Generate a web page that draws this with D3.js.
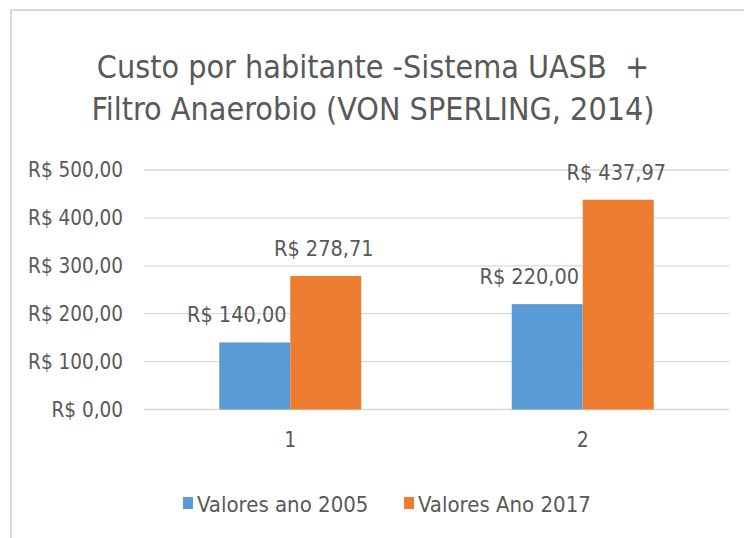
<!DOCTYPE html>
<html>
<head>
<meta charset="utf-8">
<script src="https://cdn.jsdelivr.net/npm/d3@7"></script>
<style>
  html, body { margin: 0; padding: 0; background: #fff; }
  svg { display: block; }
  text { font-family: "DejaVu Sans Condensed", "DejaVu Sans", sans-serif; fill: #595959; }
</style>
</head>
<body>
<svg id="chart" width="744" height="538"></svg>
<script>
// Cost per inhabitant, UASB + anaerobic filter system
const categories = ["1", "2"];
const seriesNames = ["Valores ano 2005", "Valores Ano 2017"];
const values2005 = [140.00, 220.00];
const values2017 = [278.71, 437.97];
const yTicks = [0, 100, 200, 300, 400, 500];
const titleLines = ["Custo por habitante -Sistema UASB  +", "Filtro Anaerobio (VON SPERLING, 2014)"];
const colors = ["#5B9BD5", "#ED7D31"];

const series = [values2005, values2017];
const W = 744, H = 538;
const FONT = '"DejaVu Sans Condensed", "DejaVu Sans", sans-serif';
const svg = d3.select("#chart");

// frame of the chart area
svg.append("path")
  .attr("d", `M11,${H} L11,10 L${W},10`)
  .attr("fill", "none")
  .attr("stroke", "#d9d9d9")
  .attr("stroke-width", 2);

// title
const title = svg.append("text")
  .attr("text-anchor", "middle")
  .attr("font-size", 32)
  .style("white-space", "pre");
titleLines.forEach((t, i) => {
  title.append("tspan").attr("x", 373).attr("y", 78 + i * 42).text(t);
});

const plot = { left: 144, right: 729, top: 170, bottom: 409.5 };

const y = d3.scaleLinear().domain([0, 500]).range([plot.bottom, plot.top]);
const x0 = d3.scaleBand().domain(categories).range([plot.left, plot.right]).padding(0);
const x1 = d3.scaleBand().domain(d3.range(series.length))
  .range([0, x0.bandwidth()]).paddingInner(0).paddingOuter(1.06);

const fmt = v => "R$ " + d3.format(",.2f")(v).replace(/,/g, "X").replace(/\./g, ",").replace(/X/g, ".");

// gridlines
svg.append("g")
  .selectAll("line")
  .data(yTicks)
  .join("line")
  .attr("x1", plot.left).attr("x2", plot.right)
  .attr("y1", d => y(d)).attr("y2", d => y(d))
  .attr("stroke", "#d9d9d9")
  .attr("stroke-width", 1.3);

// y axis labels
const yAxis = d3.axisLeft(y).tickValues(yTicks).tickFormat(fmt).tickSize(0).tickPadding(21);
const gy = svg.append("g").attr("transform", `translate(${plot.left},0)`).call(yAxis);
gy.select(".domain").remove();
gy.selectAll("text")
  .attr("font-size", 20.5)
  .attr("fill", "#595959")
  .style("font-family", FONT);

// x axis labels
const xAxis = d3.axisBottom(x0).tickSize(0).tickPadding(23);
const gx = svg.append("g").attr("transform", `translate(0,${plot.bottom})`).call(xAxis);
gx.select(".domain").remove();
gx.selectAll("text")
  .attr("font-size", 21)
  .attr("fill", "#595959")
  .style("font-family", FONT);

// bars
const groups = svg.append("g")
  .selectAll("g")
  .data(categories)
  .join("g")
  .attr("transform", d => `translate(${x0(d)},0)`);

const cells = groups.selectAll("g.cell")
  .data((c, ci) => series.map((s, si) => ({ si, v: s[ci] })))
  .join("g").attr("class", "cell");

cells.append("rect")
  .attr("x", d => x1(d.si))
  .attr("width", x1.bandwidth())
  .attr("y", d => y(d.v))
  .attr("height", d => y(0) - y(d.v))
  .attr("fill", d => colors[d.si]);

// value labels; the 2005 label sits a little left so it clears the taller bar
cells.append("text")
  .attr("text-anchor", "middle")
  .attr("font-size", 21.5)
  .attr("x", d => x1(d.si) + x1.bandwidth() / 2 + (d.si === 0 ? -18 : -2))
  .attr("y", d => y(d.v) - 20)
  .text(d => fmt(d.v));

// legend
const legendItems = [
  { name: seriesNames[0], color: colors[0], x: 183 },
  { name: seriesNames[1], color: colors[1], x: 404 }
];
const lg = svg.append("g").selectAll("g").data(legendItems).join("g")
  .attr("transform", d => `translate(${d.x},0)`);
lg.append("rect").attr("x", 0).attr("y", 497).attr("width", 10).attr("height", 12)
  .attr("fill", d => d.color);
lg.append("text").attr("x", 14).attr("y", 512).attr("font-size", 22).text(d => d.name);
</script>
</body>
</html>
